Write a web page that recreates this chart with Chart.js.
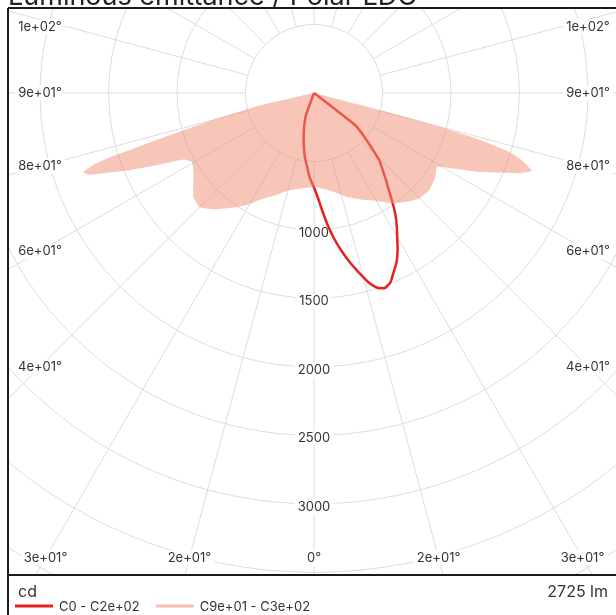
<!DOCTYPE html>
<html>
<head>
<meta charset="utf-8">
<script src="https://cdn.jsdelivr.net/npm/chart.js@4.4.1/dist/chart.umd.min.js"></script>
<style>
  html, body { margin: 0; padding: 0; background: #fff; overflow: hidden; }
  #wrap { width: 616px; height: 615px; overflow: hidden; }
</style>
</head>
<body>
<div id="wrap"><canvas id="ldc" width="624" height="615"></canvas></div>
<script>
const titleText = "Luminous emittance / Polar LDC";
const unitLabel = "cd";
const fluxLabel = "2725 lm";
const seriesNames = ["C0 - C2e+02", "C9e+01 - C3e+02"];

// C0 - C180 plane: gamma in degrees (negative = C180 side), intensity in cd
const c0Angles = [-22, -20, -17, -14, -11, -8, -5, -3, 0, 2, 4, 6, 8, 10, 12, 14, 16, 18, 20, 22,
  24, 26, 28, 30, 32, 34, 36, 38, 40, 42, 44, 46, 48, 50, 52, 54];
const c0Values = [0, 170, 240, 310, 390, 475, 550, 615, 690, 760, 860, 975, 1080, 1175, 1265, 1350, 1435, 1495, 1515, 1490,
  1430, 1375, 1300, 1215, 1140, 1060, 966, 880, 810, 745, 690, 600, 520, 450, 380, 0];

// C90 - C270 plane
const c90Angles = [-78, -77, -75, -73.5, -72.5, -72, -71, -70, -67.5, -65, -63, -60.5, -58, -56, -52, -49, -45, -41, -38, -35,
  -30, -26, -20, -14, -7, 0, 5, 11, 18, 26, 30, 35.5, 40, 45, 50, 55, 59, 61, 64.5, 68.7, 70.3, 72, 73.2, 74.2, 74.9, 75.5, 76.5];
const c90Values = [0, 420, 770, 1150, 1550, 1690, 1780, 1745, 1480, 1230, 1070, 1025, 1040, 1060, 1120, 1165, 1180, 1125, 1070, 1020,
  935, 860, 790, 730, 700, 684, 700, 734, 800, 870, 910, 990, 1040, 1090, 1100, 1080, 1045, 1130, 1340, 1610, 1690, 1600, 1490, 1257, 950, 495, 0];

const ringValues = [500, 1000, 1500, 2000, 2500, 3000, 3500, 4000, 4500, 5000];
const ringLabels = [1000, 1500, 2000, 2500, 3000];
const angleTicks = [0, 15, 30, 45, 60, 75, 90, 105];
const angleTickLabels = ["0°", "2e+01°", "3e+01°", "4e+01°", "6e+01°", "8e+01°", "9e+01°", "1e+02°"];

const FONT = "Inter, 'Noto Sans', sans-serif";

function toXY(angles, values) {
  return angles.map((a, i) => {
    const t = a * Math.PI / 180;
    return { x: values[i] * Math.sin(t), y: -values[i] * Math.cos(t) };
  });
}

function labelBox(ctx, text, x, y, size) {
  ctx.font = size + "px " + FONT;
  const w = ctx.measureText(text).width;
  ctx.fillStyle = "#fff";
  ctx.fillRect(x - w / 2 - 3, y - size / 2 - 1, w + 6, size + 2);
  ctx.fillStyle = "#333";
  ctx.textAlign = "center";
  ctx.textBaseline = "middle";
  ctx.fillText(text, x, y);
}

const polarGrid = {
  id: "polarGrid",
  beforeDatasetsDraw(chart) {
    const { ctx, chartArea: a, scales: { x, y } } = chart;
    const cx = x.getPixelForValue(0), cy = y.getPixelForValue(0);
    const px = v => x.getPixelForValue(v) - cx;
    ctx.save();
    ctx.beginPath();
    ctx.rect(a.left, a.top, a.right - a.left, a.bottom - a.top);
    ctx.clip();
    ctx.strokeStyle = "#dcdcdc";
    ctx.lineWidth = 1;
    ringValues.forEach(v => {
      ctx.beginPath();
      ctx.arc(cx, cy, px(v), 0, Math.PI * 2);
      ctx.stroke();
    });
    const r0 = px(500), r1 = px(8000);
    for (let deg = 0; deg < 360; deg += 15) {
      const t = deg * Math.PI / 180;
      ctx.beginPath();
      ctx.moveTo(cx + r0 * Math.sin(t), cy + r0 * Math.cos(t));
      ctx.lineTo(cx + r1 * Math.sin(t), cy + r1 * Math.cos(t));
      ctx.stroke();
    }
    // angle labels along the frame
    const L = a.left + 32, R = a.right - 32, B = a.bottom - 17, T = a.top + 19;
    angleTicks.forEach((deg, i) => {
      [1, -1].forEach(side => {
        if (deg === 0 && side < 0) return;
        const t = deg * Math.PI / 180;
        const dx = Math.sin(t) * side, dy = Math.cos(t);
        let k = Infinity;
        if (Math.abs(dx) > 1e-9) k = Math.min(k, (dx > 0 ? R - cx : cx - L) / Math.abs(dx));
        if (dy > 1e-9) k = Math.min(k, (B - cy) / dy);
        const ly = Math.max(T, cy + dy * k);
        labelBox(ctx, angleTickLabels[i], cx + dx * k, ly, 13);
      });
    });
    ringLabels.forEach(v => labelBox(ctx, String(v), cx, cy + px(v) + 3, 13));
    ctx.restore();
  },
  afterDraw(chart) {
    const { ctx, chartArea: a } = chart;
    ctx.save();
    ctx.strokeStyle = "#1a1a1a";
    ctx.lineWidth = 2;
    ctx.beginPath();
    ctx.moveTo(a.left, a.top); ctx.lineTo(a.right + 10, a.top);
    ctx.moveTo(a.left, a.top); ctx.lineTo(a.left, chart.height + 5);
    ctx.moveTo(a.left, a.bottom); ctx.lineTo(a.right + 10, a.bottom);
    ctx.stroke();

    ctx.fillStyle = "#222";
    ctx.textBaseline = "alphabetic";
    ctx.textAlign = "left";
    ctx.font = "27px " + FONT;
    ctx.fillText(titleText, a.left, 5);

    ctx.fillStyle = "#333";
    ctx.font = "16px " + FONT;
    ctx.fillText(unitLabel, 18, 597);
    ctx.textAlign = "right";
    ctx.fillText(fluxLabel, 608, 597);

    // legend
    const ds = chart.data.datasets;
    ctx.textAlign = "left";
    ctx.textBaseline = "middle";
    ctx.font = "13px " + FONT;
    let lx = 15;
    ds.forEach((d, i) => {
      ctx.strokeStyle = i === 0 ? d.borderColor : "rgb(247,190,178)";
      ctx.lineWidth = 3;
      ctx.beginPath();
      ctx.moveTo(lx, 606); ctx.lineTo(lx + 38, 606);
      ctx.stroke();
      ctx.fillStyle = "#333";
      ctx.fillText(d.label, lx + 44, 607);
      lx += 44 + ctx.measureText(d.label).width + 16;
    });
    ctx.restore();
  }
};

new Chart(document.getElementById("ldc"), {
  type: "scatter",
  data: {
    datasets: [{
      label: seriesNames[0],
      data: toXY(c0Angles, c0Values),
      showLine: true,
      borderColor: "rgb(228,35,30)",
      borderWidth: 2.5,
      pointRadius: 0,
      fill: false,
      tension: 0.2,
      order: 1
    }, {
      label: seriesNames[1],
      data: toXY(c90Angles, c90Values),
      showLine: true,
      borderColor: "rgba(0,0,0,0)",
      borderWidth: 0,
      backgroundColor: "rgba(242,140,115,0.5)",
      pointRadius: 0,
      fill: "shape",
      tension: 0.1,
      order: 0
    }]
  },
  options: {
    responsive: false,
    animation: false,
    layout: { padding: { left: 8, right: 4, top: 8, bottom: 40 } },
    scales: {
      x: { type: "linear", display: false, min: -2234, max: 2234 },
      y: { type: "linear", display: false, min: -3518, max: 620 }
    },
    plugins: { legend: { display: false }, tooltip: { enabled: false } }
  },
  plugins: [polarGrid]
});
</script>
</body>
</html>
